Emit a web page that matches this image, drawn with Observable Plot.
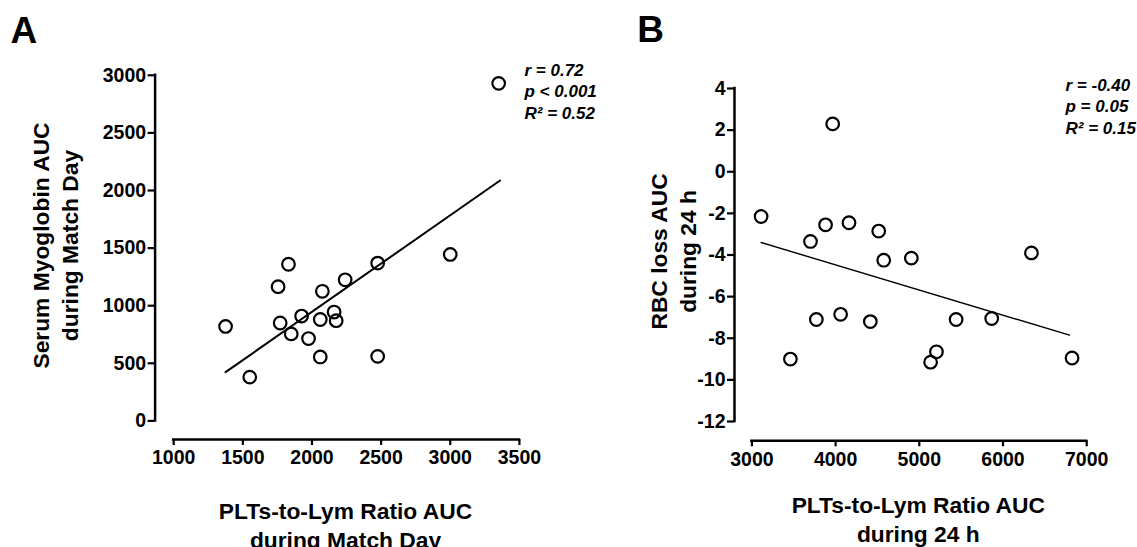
<!DOCTYPE html>
<html><head><meta charset="utf-8">
<script src="https://cdn.jsdelivr.net/npm/d3@7"></script>
<script src="https://cdn.jsdelivr.net/npm/@observablehq/plot@0.6"></script>
<style>
html,body{margin:0;padding:0;background:#fff;}
#wrap{position:relative;width:1137px;height:547px;overflow:hidden;background:#fff;}
#a,#b{position:absolute;top:0;}
#a{left:0;z-index:2;} #b{left:560px;z-index:1;}
#a svg,#b svg{overflow:visible;}
</style></head><body><div id="wrap"><div id="a"></div><div id="b"></div></div>
<script>
// ---- Panel A data ----
const plrA = [1375,1550,1770,1755,1830,1850,1925,1975,2060,2060,2075,2160,2175,2240,2475,2475,3000,3350];
const myoA = [820,380,850,1165,1360,755,910,715,880,555,1125,945,870,1225,1370,560,1445,2930];
const fitAx = [1375, 3360];
const fitAy = [423, 2087];
const ticksAx = [1000,1500,2000,2500,3000,3500];
const ticksAy = [0,500,1000,1500,2000,2500,3000];
const statsA = ["r = 0.72", "p < 0.001", "R\u00B2 = 0.52"];
const xLabelA = ["PLTs-to-Lym Ratio AUC", "during Match Day"];
const yLabelA = ["Serum Myoglobin AUC", "during Match Day"];

// ---- Panel B data ----
const plrB = [3110,3460,3700,3770,3880,3965,4060,4160,4415,4515,4575,4905,5135,5205,5440,5865,6340,6825];
const rbcB = [-2.15,-9.0,-3.35,-7.1,-2.55,2.3,-6.85,-2.45,-7.2,-2.85,-4.25,-4.15,-9.15,-8.65,-7.1,-7.05,-3.9,-8.95];
const fitBx = [3110, 6795];
const fitBy = [-3.4, -7.85];
const ticksBx = [3000,4000,5000,6000,7000];
const ticksBy = [-12,-10,-8,-6,-4,-2,0,2,4];
const statsB = ["r = -0.40", "p = 0.05", "R\u00B2 = 0.15"];
const xLabelB = ["PLTs-to-Lym Ratio AUC", "during 24 h"];
const yLabelB = ["RBC loss AUC", "during 24 h"];

const FONT = '"Liberation Sans", Arial, Helvetica, sans-serif';

function panel(o) {
  const pts = o.xs.map((x, i) => ({x, y: o.ys[i]}));
  const fit = o.fx.map((x, i) => ({x, y: o.fy[i]}));
  const L = o.layout;
  const xd = [o.xt[0], o.xt[o.xt.length - 1]];
  const yd = [o.yt[0], o.yt[o.yt.length - 1]];
  const offX = L.xr[0] - L.ml;              // gap between y-axis and first x tick
  const offY = (L.h - L.mb) - L.yr[0];      // gap between x-axis and first y tick
  const fmt = d => String(d);
  return Plot.plot({
    width: L.w, height: L.h,
    marginLeft: L.ml, marginRight: L.w - L.xr[1], marginTop: L.yr[1], marginBottom: L.mb,
    style: {fontFamily: FONT, fontWeight: "bold", color: "black", background: "transparent", overflow: "visible"},
    x: {domain: xd, range: L.xr},
    y: {domain: yd, range: L.yr},
    marks: [
      Plot.ruleX([xd[0]], {y1: yd[0], y2: yd[1], dx: -offX, stroke: "black", strokeWidth: 2.5, strokeLinecap: "square"}),
      Plot.ruleY([yd[0]], {x1: xd[0], x2: xd[1], dy: offY, stroke: "black", strokeWidth: 2.5, strokeLinecap: "square"}),
      Plot.axisX({ticks: o.xt, tickFormat: fmt, tickSize: 6, tickPadding: 5, strokeWidth: 2.2, fontSize: 19.5, fontWeight: "bold", label: null}),
      Plot.axisY({ticks: o.yt, tickFormat: fmt, tickSize: 7, tickPadding: 2, strokeWidth: 2.2, fontSize: 19.5, fontWeight: "bold", label: null}),
      Plot.line(fit, {x: "x", y: "y", stroke: "black", strokeWidth: o.fitW}),
      Plot.dot(pts, {x: "x", y: "y", r: 6.3, stroke: "black", strokeWidth: 2.2, fill: "none"}),
      Plot.text([o.stats.join("\n")], {frameAnchor: "top-right", textAnchor: "start", lineAnchor: "middle",
        dx: L.statDx, dy: L.statDy, fontSize: 17, fontWeight: "bold", fontStyle: "italic", lineHeight: 1.28, fill: "black"}),
      Plot.text([o.xlab.join("\n")], {frameAnchor: "bottom", textAnchor: "middle", lineAnchor: "top",
        dx: L.xlDx, dy: L.xlDy, fontSize: 22.8, fontWeight: "bold", lineHeight: 1.25, fill: "black"}),
      Plot.text([o.ylab.join("\n")], {frameAnchor: "left", textAnchor: "middle", lineAnchor: "top", rotate: -90,
        dx: L.ylDx, dy: L.ylDy, fontSize: 22.8, fontWeight: "bold", lineHeight: 1.27, fill: "black"}),
      Plot.text([o.letter], {frameAnchor: "top-left", textAnchor: "start", lineAnchor: "top",
        dx: L.letDx, dy: L.letDy, fontSize: 37, fontWeight: "bold", fill: "black"})
    ]
  });
}

document.getElementById("a").append(panel({
  xs: plrA, ys: myoA, fx: fitAx, fy: fitAy, xt: ticksAx, yt: ticksAy, stats: statsA,
  xlab: xLabelA, ylab: yLabelA, letter: "A", fitW: 2,
  layout: {w: 560, h: 547, ml: 154.6, mb: 108, xr: [173.2, 518.9], yr: [420.4, 74.8],
    statDx: 5.1, statDy: 15.2, xlDx: 8.25, xlDy: 59.5, ylDx: -126.5, ylDy: -11.9, letDx: -144.6, letDy: -58.8}
}));
document.getElementById("b").append(panel({
  xs: plrB, ys: rbcB, fx: fitBx, fy: fitBy, xt: ticksBx, yt: ticksBy, stats: statsB,
  xlab: xLabelB, ylab: yLabelB, letter: "B", fitW: 1.4,
  layout: {w: 577, h: 547, ml: 174, mb: 106.7, xr: [191.4, 526.2], yr: [421, 88],
    statDx: -21.2, statDy: 17, xlDx: 7.7, xlDy: 52, ylDx: -88, ylDy: -13.2, letDx: -97.3, letDy: -73}
}));
</script>
</body></html>
